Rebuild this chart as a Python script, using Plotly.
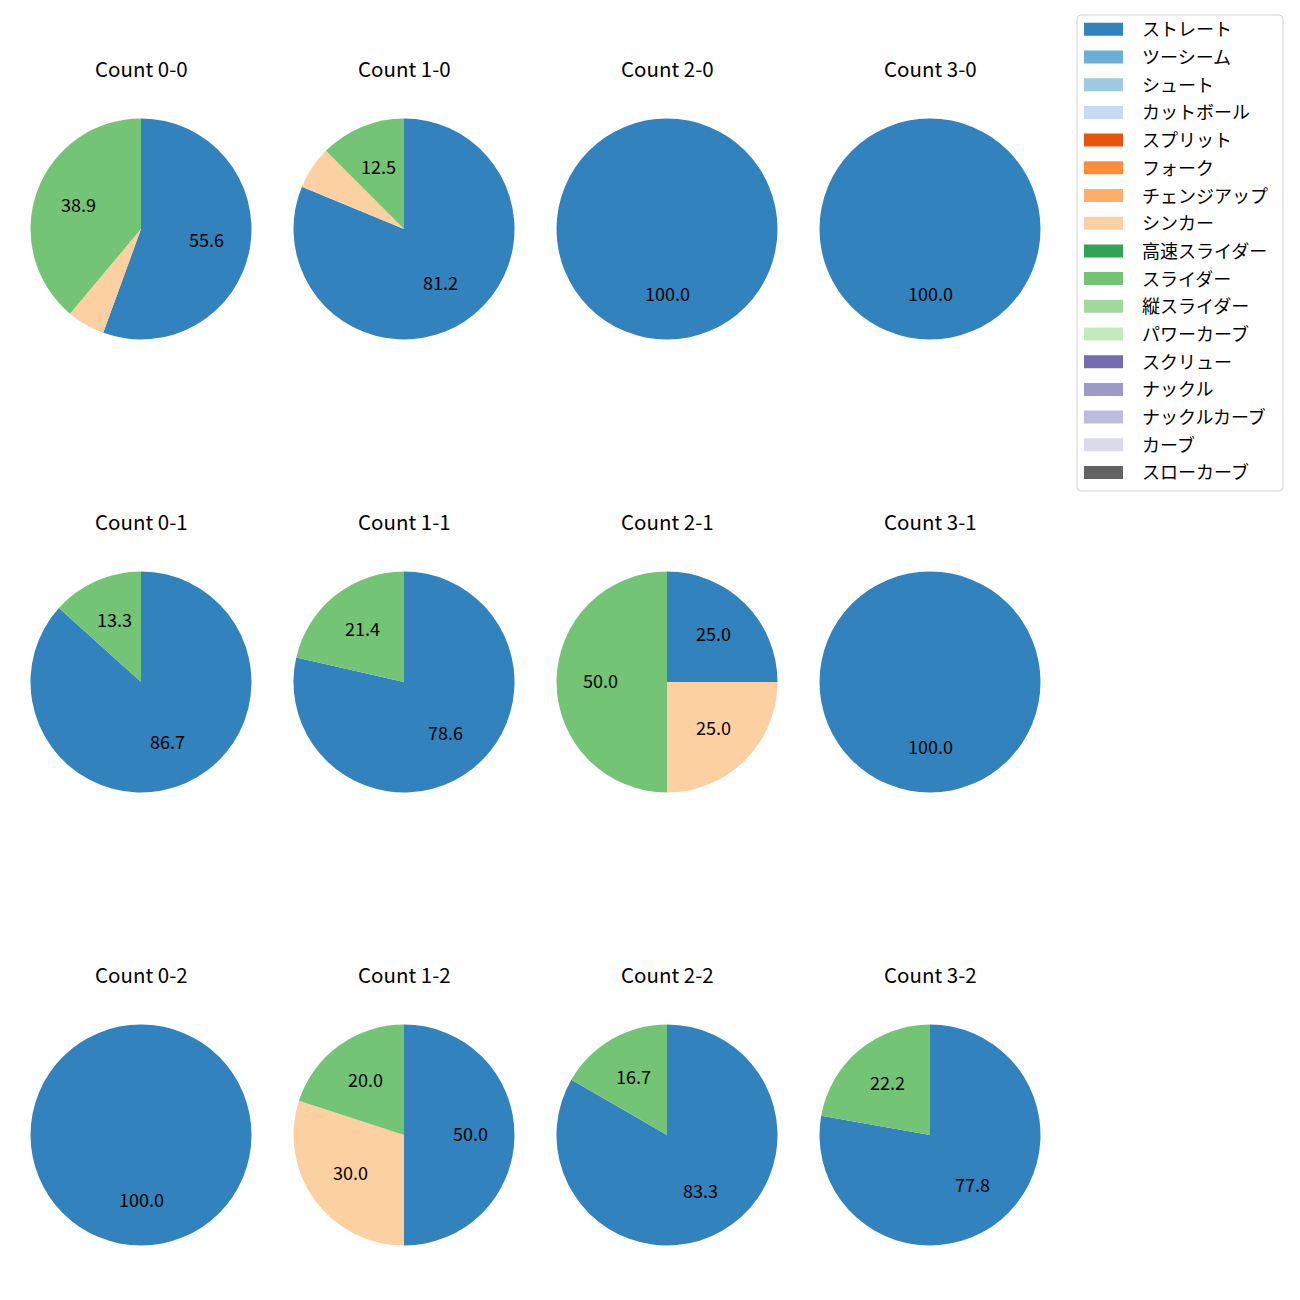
import plotly.graph_objects as go
import math

pitch_types = ["ストレート", "ツーシーム", "シュート", "カットボール", "スプリット", "フォーク",
               "チェンジアップ", "シンカー", "高速スライダー", "スライダー", "縦スライダー",
               "パワーカーブ", "スクリュー", "ナックル", "ナックルカーブ", "カーブ", "スローカーブ"]
colors = ["#3182bd", "#6baed6", "#9ecae1", "#c6dbef", "#e6550d", "#fd8d3c", "#fdae6b",
          "#fdd0a2", "#31a354", "#74c476", "#a1d99b", "#c7e9c0", "#756bb1", "#9e9ac8",
          "#bcbddc", "#dadaeb", "#636363"]

counts = ["0-0", "1-0", "2-0", "3-0", "0-1", "1-1", "2-1", "3-1", "0-2", "1-2", "2-2", "3-2"]
# pitch counts per ball-strike count: ストレート, シンカー, スライダー
straight = [10, 13, 1, 1, 13, 11, 1, 1, 1, 5, 5, 7]
sinker   = [1, 1, 0, 0, 0, 0, 1, 0, 0, 3, 0, 0]
slider   = [7, 2, 0, 0, 2, 3, 2, 0, 0, 2, 1, 2]

W = H = 1300
OFF = 8  # page body margin
FONT = "Noto Sans CJK JP"
col_x = [141, 404, 667, 930]
row_y = [229, 682, 1135]
R = 110.5

fig = go.Figure()
annotations = []
shapes = []

def px(x):
    return (x - OFF) / W

def py(y):
    return 1 - (y - OFF) / H

for i, cnt in enumerate(counts):
    r, c = divmod(i, 4)
    cx, cy = col_x[c], row_y[r]
    labels = ["ストレート", "シンカー", "スライダー"]
    vals = [straight[i], sinker[i], slider[i]]
    pl = [(l, v) for l, v in zip(labels, vals) if v > 0]
    fig.add_trace(go.Pie(
        labels=[l for l, _ in pl], values=[v for _, v in pl],
        marker=dict(colors=[colors[pitch_types.index(l)] for l, _ in pl], line=dict(width=0)),
        sort=False, direction="clockwise", rotation=0, textinfo="none",
        showlegend=False,
        domain=dict(x=[px(cx - R), px(cx + R)], y=[py(cy + R), py(cy - R)]),
    ))
    total = sum(v for _, v in pl)
    cum = 0
    for l, v in pl:
        pct = 100 * v / total
        mid = math.radians(90 - 360 * (cum + v / 2) / total)
        cum += v
        if pct >= 10:
            tx = cx + 0.6 * R * math.cos(mid)
            ty = cy - 0.6 * R * math.sin(mid) - 2
            annotations.append(dict(x=px(tx), y=py(ty), xref="paper", yref="paper",
                                    text=f"{pct:.1f}", showarrow=False,
                                    font=dict(size=18, color="#000000", family=FONT),
                                    xanchor="center", yanchor="middle"))
    annotations.append(dict(x=px(cx), y=py(cy - 161), xref="paper", yref="paper",
                            text=f"Count {cnt}", showarrow=False,
                            font=dict(size=20.5, color="#000000", family=FONT),
                            xanchor="center", yanchor="middle"))

# legend
lx0, lx1, ly0, ly1 = 1077, 1283, 15, 491
rad = 4
path = (f"M {px(lx0+rad)},{py(ly0)} L {px(lx1-rad)},{py(ly0)} Q {px(lx1)},{py(ly0)} {px(lx1)},{py(ly0+rad)} "
        f"L {px(lx1)},{py(ly1-rad)} Q {px(lx1)},{py(ly1)} {px(lx1-rad)},{py(ly1)} "
        f"L {px(lx0+rad)},{py(ly1)} Q {px(lx0)},{py(ly1)} {px(lx0)},{py(ly1-rad)} "
        f"L {px(lx0)},{py(ly0+rad)} Q {px(lx0)},{py(ly0)} {px(lx0+rad)},{py(ly0)} Z")
shapes.append(dict(type="path", path=path, xref="paper", yref="paper",
                   line=dict(color="#d5d5d5", width=1), fillcolor="rgba(255,255,255,0.8)"))
y_first, step = 29.3, 27.7
for k, (name, col) in enumerate(zip(pitch_types, colors)):
    yc = y_first + k * step
    shapes.append(dict(type="rect", xref="paper", yref="paper",
                       x0=px(1084), x1=px(1123), y0=py(yc + 6.5), y1=py(yc - 6.5),
                       fillcolor=col, line=dict(width=0)))
    annotations.append(dict(x=px(1140), y=py(yc - 1), xref="paper", yref="paper",
                            text=name, showarrow=False, xanchor="left", yanchor="middle",
                            font=dict(size=18, color="#000000", family=FONT)))

fig.update_layout(width=W, height=H, margin=dict(l=0, r=0, t=0, b=0),
                  paper_bgcolor="white", plot_bgcolor="white",
                  annotations=annotations, shapes=shapes,
                  font=dict(family=FONT))
fig.write_html("out.html")
